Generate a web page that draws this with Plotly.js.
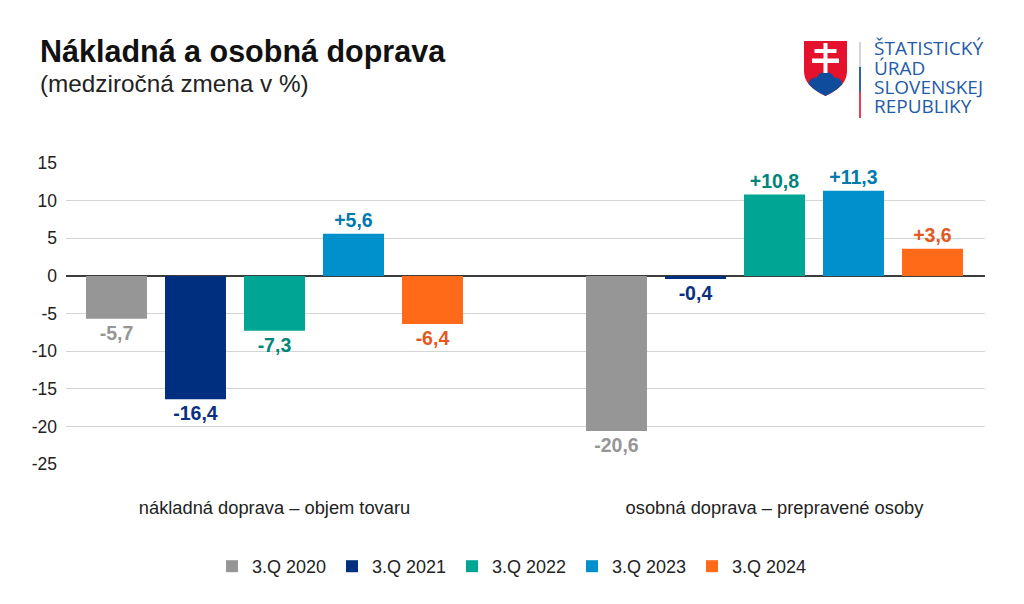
<!DOCTYPE html>
<html><head><meta charset="utf-8">
<script src="https://cdn.plot.ly/plotly-3.0.1.min.js"></script>
<style>html,body{margin:0;padding:0;background:#fff}</style></head>
<body><div id="chart" style="width:1024px;height:604px"></div>
<script>
const categories = ['nákladná doprava – objem tovaru', 'osobná doprava – prepravené osoby'];
const s2020 = [-5.7, -20.6];
const s2021 = [-16.4, -0.4];
const s2022 = [-7.3, 10.8];
const s2023 = [5.6, 11.3];
const s2024 = [-6.4, 3.6];
const seriesNames = ['3.Q 2020','3.Q 2021','3.Q 2022','3.Q 2023','3.Q 2024'];
const seriesValues = [s2020,s2021,s2022,s2023,s2024];
const barColors = ['#969696','#002f80','#00a593','#0090cc','#ff6a19'];
const labelColors = ['#969696','#0b3080','#00857a','#0079ae','#e3591e'];
const yTicks = [15,10,5,0,-5,-10,-15,-20,-25];
const yLabels = ['15','10','5','0','-5','-10','-15','-20','-25'];
const logoLines = ['ŠTATISTICKÝ','ÚRAD','SLOVENSKEJ','REPUBLIKY'];
const F = 'Liberation Sans, Arial, sans-serif';
const fmt = v => (v>0?'+':'') + v.toFixed(1).replace('.',',');

const traces = seriesValues.map((vals,i)=>({
  type:'bar', name:seriesNames[i], x:categories, y:vals,
  marker:{color:barColors[i]}, text:vals.map(fmt), textposition:'outside',
  textangle:0, cliponaxis:false, constraintext:'none', hoverinfo:'skip',
  textfont:{family:F,size:19.5,color:labelColors[i],weight:700}
}));

const shield = 'data:image/svg+xml;utf8,' + encodeURIComponent(
 '<svg xmlns="http://www.w3.org/2000/svg" viewBox="0 0 43 55">'+
 '<path d="M0 0H43V30C43 43 32 50 21.5 55C11 50 0 43 0 30Z" fill="#e4122d"/>'+
 '<path d="M4.5 43C6 37 10 36 12.5 37C14 33 18 31 21.5 31C25 31 29 33 30.5 37C33 36 37 37 38.5 43C33 49 27 52 21.5 55C16 52 10 49 4.5 43Z" fill="#0f4c9c"/>'+
 '<path d="M19.5 32V22H8V17.5H19.5V12H10.5V8H19.5V2H23.5V8H32.5V12H23.5V17.5H35V22H23.5V32Z" fill="#fff"/></svg>');

const PW = 919, PH = 301;
const px = x => (x-66)/PW, py = y => 1-(y-163)/PH;
const annotations = [
 {text:'<b>Nákladná a osobná doprava</b>',x:px(39),y:py(52),xref:'paper',yref:'paper',xanchor:'left',yanchor:'middle',xshift:-1,showarrow:false,font:{family:F,size:30.5,color:'#111'}},
 {text:'(medziročná zmena v %)',x:px(39),y:py(84),xref:'paper',yref:'paper',xanchor:'left',yanchor:'middle',xshift:-1,showarrow:false,font:{family:F,size:24.3,color:'#222'}}
];
logoLines.forEach((t,i)=>annotations.push({text:t,x:px(873),y:py(48.5+i*19.3),xref:'paper',yref:'paper',xanchor:'left',yanchor:'middle',xshift:-1,showarrow:false,font:{family:'Open Sans, sans-serif',size:19,color:'#1f5ba8'}}));

const layout = {
  width:1024,height:604,paper_bgcolor:'#fff',plot_bgcolor:'#fff',
  margin:{l:66,r:39,t:163,b:140,pad:0},
  barmode:'group',bargap:0.21,bargroupgap:0.228,
  font:{family:F,color:'#222'},
  xaxis:{type:'category',range:[-0.417,1.421],showgrid:false,zeroline:false,showline:false,
    ticks:'outside',ticklen:27,tickcolor:'rgba(0,0,0,0)',tickfont:{family:F,size:18.3,color:'#222'},fixedrange:true},
  yaxis:{range:[-25,15],tickmode:'array',tickvals:yTicks,ticktext:yLabels,gridcolor:'#d4d4d4',gridwidth:1,
    zeroline:true,zerolinecolor:'#3c3c3c',zerolinewidth:2,showline:false,ticks:'',ticklabelstandoff:8,
    tickfont:{family:F,size:17.5,color:'#222'},fixedrange:true},
  legend:{orientation:'h',x:px(512),xanchor:'center',y:py(548),yanchor:'top',traceorder:'normal',
    entrywidth:75,entrywidthmode:'pixels',itemclick:false,itemdoubleclick:false,font:{family:F,size:18,color:'#222'}},
  annotations,
  images:[{source:shield,xref:'paper',yref:'paper',x:px(804),y:py(41),sizex:43/PW,sizey:55/PH,xanchor:'left',yanchor:'top',sizing:'stretch',layer:'above'}],
  shapes:[
   {type:'line',xref:'paper',yref:'paper',x0:px(860),x1:px(860),y0:py(42),y1:py(67),line:{color:'#d5d5d5',width:2}},
   {type:'line',xref:'paper',yref:'paper',x0:px(860),x1:px(860),y0:py(67),y1:py(92),line:{color:'#2f62b0',width:2}},
   {type:'line',xref:'paper',yref:'paper',x0:px(860),x1:px(860),y0:py(92),y1:py(118),line:{color:'#e8404f',width:2}}
  ]
};
Plotly.newPlot('chart',traces,layout,{displayModeBar:false,staticPlot:true});
</script></body></html>
